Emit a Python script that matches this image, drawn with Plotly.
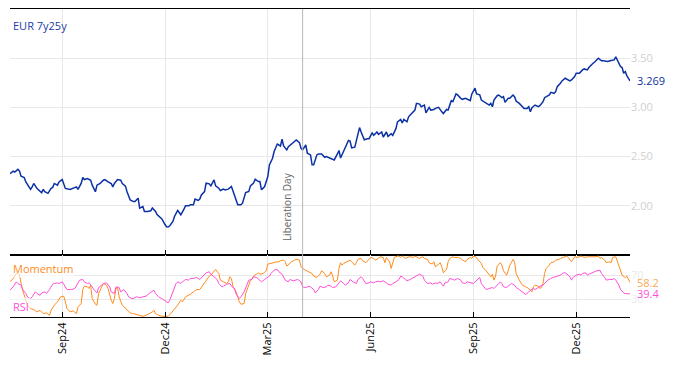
import pandas as pd
import plotly.graph_objects as go

# ---------------- data ----------------
START = "2024-07-17"          # first trading day shown
N_DAYS = 393                  # trading days up to 2026-01-16

# EUR 7y25y level: trading-day offset from START, value
level_day = [0, 2, 3, 5, 6, 7, 9, 10, 12, 13, 14, 15, 17, 19, 20, 21, 22, 24, 26, 27, 28, 30, 31, 33, 34, 35, 38, 40, 42, 43,
             45, 46, 47, 49, 51, 52, 54, 55, 57, 59, 60, 62, 64, 65, 66, 68, 70, 71, 73, 74, 76, 78, 79, 81, 82, 84, 85, 87, 89, 90,
             92, 93, 94, 96, 98, 99, 100, 101, 103, 104, 106, 107, 108, 110, 111, 113, 114, 116, 117, 119, 120, 121, 123, 124, 126, 127, 129, 130, 132, 133,
             135, 136, 138, 140, 141, 143, 144, 146, 147, 149, 151, 152, 154, 155, 157, 158, 159, 161, 163, 164, 166, 167, 169, 171, 172, 173, 175, 176, 178, 180,
             181, 183, 184, 185, 187, 188, 190, 191, 192, 194, 195, 197, 199, 200, 202, 203, 205, 207, 208, 209, 211, 212, 214, 215, 216, 218, 220, 221, 222, 224,
             226, 227, 229, 230, 232, 233, 235, 236, 238, 239, 241, 242, 244, 245, 247, 248, 249, 251, 252, 254, 256, 257, 259, 260, 262, 263, 265, 266, 268, 269,
             271, 273, 274, 276, 277, 279, 280, 282, 283, 285, 286, 288, 289, 291, 292, 294, 295, 297, 298, 300, 301, 303, 304, 305, 306, 308, 309, 311, 312, 313,
             315, 316, 318, 319, 320, 322, 324, 325, 327, 328, 329, 330, 332, 334, 335, 337, 338, 339, 341, 342, 344, 345, 346, 348, 349, 351, 352, 354, 355, 357,
             358, 360, 362, 363, 365, 366, 368, 369, 370, 372, 374, 375, 377, 378, 380, 382, 383, 384, 385, 386, 387, 388, 389, 390, 392]
level = [2.327, 2.353, 2.343, 2.370, 2.353, 2.300, 2.287, 2.243, 2.193, 2.167, 2.193, 2.227, 2.177, 2.153, 2.133, 2.167, 2.143, 2.127, 2.177, 2.187, 2.227, 2.210, 2.243, 2.267, 2.210, 2.177, 2.167, 2.177, 2.193, 2.167,
         2.227, 2.287, 2.267, 2.277, 2.260, 2.210, 2.143, 2.210, 2.227, 2.260, 2.267, 2.243, 2.227, 2.193, 2.227, 2.267, 2.260, 2.227, 2.200, 2.143, 2.060, 2.043, 2.043, 2.077, 1.977, 1.993, 1.943, 1.943, 1.950, 1.977,
         1.943, 1.910, 1.893, 1.867, 1.810, 1.787, 1.784, 1.797, 1.841, 1.892, 1.953, 1.932, 1.909, 1.966, 2.000, 2.000, 2.010, 2.010, 2.068, 2.054, 2.068, 2.111, 2.145, 2.230, 2.223, 2.203, 2.264, 2.203, 2.179, 2.155,
         2.169, 2.162, 2.169, 2.196, 2.145, 2.061, 2.010, 2.010, 2.027, 2.135, 2.145, 2.203, 2.230, 2.270, 2.247, 2.247, 2.162, 2.196, 2.297, 2.416, 2.483, 2.551, 2.628, 2.608, 2.676, 2.608, 2.568, 2.601, 2.628, 2.652,
         2.669, 2.642, 2.584, 2.568, 2.618, 2.534, 2.517, 2.416, 2.416, 2.517, 2.527, 2.527, 2.493, 2.500, 2.483, 2.476, 2.466, 2.527, 2.562, 2.486, 2.562, 2.603, 2.664, 2.658, 2.589, 2.596, 2.716, 2.795, 2.750, 2.671,
         2.682, 2.682, 2.740, 2.716, 2.750, 2.726, 2.750, 2.699, 2.750, 2.705, 2.733, 2.716, 2.784, 2.853, 2.877, 2.842, 2.877, 2.853, 2.904, 2.938, 2.973, 3.041, 3.034, 3.007, 3.024, 2.945, 3.000, 2.973, 2.979, 2.990,
         3.000, 2.955, 2.938, 2.979, 2.973, 3.068, 3.058, 3.137, 3.127, 3.092, 3.082, 3.092, 3.082, 3.068, 3.137, 3.195, 3.137, 3.127, 3.075, 3.058, 3.041, 3.024, 3.041, 3.007, 3.075, 3.119, 3.126, 3.099, 3.109, 3.051,
         3.092, 3.092, 3.126, 3.109, 3.065, 3.041, 3.007, 2.990, 2.990, 3.007, 2.956, 2.997, 3.024, 3.007, 3.017, 3.058, 3.099, 3.109, 3.126, 3.153, 3.143, 3.160, 3.211, 3.245, 3.269, 3.296, 3.289, 3.269, 3.279, 3.313,
         3.347, 3.347, 3.381, 3.391, 3.381, 3.405, 3.439, 3.449, 3.466, 3.500, 3.473, 3.473, 3.473, 3.466, 3.476, 3.483, 3.514, 3.483, 3.449, 3.415, 3.405, 3.347, 3.364, 3.323, 3.269]

mom_day = [0, 2, 4, 6, 7, 8, 10, 11, 13, 15, 17, 19, 21, 23, 25, 26, 28, 30, 32, 34, 35, 36, 38, 40, 42, 43, 45, 46, 47, 49,
           50, 51, 52, 54, 55, 56, 58, 59, 61, 62, 64, 65, 66, 67, 68, 69, 71, 72, 74, 76, 78, 80, 82, 84, 86, 88, 90, 91, 92, 94,
           96, 98, 100, 102, 104, 106, 108, 109, 111, 113, 114, 116, 118, 120, 122, 124, 126, 127, 129, 130, 132, 133, 135, 137, 138, 139, 140, 141, 143, 144,
           145, 146, 148, 149, 151, 152, 154, 156, 157, 158, 160, 162, 163, 165, 166, 168, 170, 171, 173, 174, 175, 177, 178, 180, 181, 183, 184, 186, 188, 189,
           191, 192, 194, 196, 197, 199, 200, 202, 203, 204, 205, 207, 208, 209, 210, 211, 213, 215, 216, 218, 219, 220, 222, 223, 225, 227, 228, 230, 231, 233,
           234, 236, 237, 238, 240, 241, 242, 243, 245, 246, 247, 248, 250, 251, 253, 255, 256, 258, 259, 261, 262, 264, 265, 267, 268, 269, 270, 272, 273, 274,
           275, 276, 277, 278, 280, 281, 283, 285, 286, 288, 289, 291, 292, 293, 295, 296, 298, 299, 301, 303, 304, 305, 306, 307, 308, 310, 311, 312, 314, 315,
           316, 317, 318, 319, 320, 322, 323, 324, 326, 327, 329, 330, 331, 332, 334, 335, 336, 337, 338, 339, 341, 342, 344, 345, 347, 348, 350, 352, 353, 355,
           356, 357, 359, 361, 362, 364, 365, 367, 369, 370, 372, 373, 374, 376, 377, 379, 380, 381, 383, 384, 385, 386, 387, 388, 389, 390, 391, 392]
momentum = [59.0, 64.5, 72.7, 71.6, 56.3, 45.3, 28.9, 20.7, 15.2, 13.6, 9.7, 12.5, 7.0, 8.1, 4.2, 12.5, 20.7, 26.2, 34.4, 35.5, 26.2, 15.2, 9.7, 11.4, 7.0, 18.0, 23.4, 46.4, 51.9, 50.8,
            48.1, 53.6, 31.6, 22.3, 20.7, 39.9, 50.8, 56.3, 53.6, 48.1, 28.9, 23.4, 31.6, 48.1, 49.7, 34.4, 20.7, 18.0, 12.5, 8.1, 7.0, 5.9, 4.2, 2.6, 4.2, 7.0, 9.7, 12.5, 7.0, 4.2,
            2.6, 2.6, 2.6, 8.1, 13.6, 20.7, 28.9, 26.2, 34.4, 37.1, 38.8, 42.6, 46.4, 46.4, 53.6, 61.8, 68.4, 70.0, 77.1, 79.3, 72.7, 61.8, 59.0, 56.3, 59.0, 67.3, 64.5, 50.8, 42.6, 34.4,
            26.2, 22.3, 23.4, 39.9, 53.6, 60.7, 68.4, 72.7, 73.8, 71.6, 72.7, 77.1, 88.1, 89.2, 90.3, 91.4, 91.9, 93.6, 94.7, 91.9, 84.8, 90.3, 91.9, 94.7, 95.8, 94.7, 83.7, 79.3, 77.1, 75.5,
            72.7, 68.4, 66.2, 71.6, 77.1, 72.7, 67.3, 70.0, 75.5, 68.4, 59.0, 61.8, 81.0, 90.3, 86.4, 89.2, 91.9, 94.7, 91.9, 86.4, 90.3, 95.8, 97.4, 93.6, 90.3, 95.8, 99.0, 97.4, 94.7, 97.4,
            100.1, 99.0, 90.3, 99.0, 91.9, 81.0, 89.2, 99.0, 101.2, 101.2, 99.0, 101.2, 97.4, 99.0, 100.1, 99.0, 101.2, 99.0, 97.4, 100.1, 97.4, 95.8, 90.3, 88.1, 91.9, 83.7, 86.4, 90.3, 83.7, 73.8,
            77.1, 79.3, 91.9, 97.4, 100.1, 99.0, 99.0, 97.4, 94.7, 91.9, 95.8, 99.0, 97.4, 101.2, 99.0, 94.7, 89.2, 82.6, 77.1, 71.6, 67.3, 71.6, 61.8, 68.4, 84.8, 90.3, 86.4, 77.1, 70.0, 77.1,
            86.4, 90.3, 95.8, 91.9, 72.7, 61.8, 56.3, 53.6, 50.8, 49.7, 45.3, 42.6, 50.8, 53.6, 51.9, 48.1, 49.7, 56.3, 72.7, 81.0, 86.4, 90.3, 91.9, 94.7, 95.8, 97.4, 99.0, 101.2, 99.0, 91.9,
            95.8, 100.1, 99.0, 101.2, 100.1, 99.0, 100.1, 100.1, 99.0, 100.1, 101.2, 97.4, 99.0, 94.7, 90.3, 91.9, 90.3, 99.0, 100.1, 91.9, 84.8, 75.5, 70.0, 67.3, 66.2, 68.4, 63.0, 58.2]

rsi_day = [0, 2, 4, 5, 7, 8, 10, 11, 13, 14, 16, 17, 19, 20, 22, 23, 25, 27, 28, 30, 31, 33, 35, 36, 38, 39, 41, 42, 44, 46,
           47, 49, 50, 52, 53, 55, 56, 58, 59, 61, 63, 64, 66, 67, 69, 70, 72, 74, 75, 77, 78, 80, 82, 84, 86, 88, 90, 91, 92, 94,
           96, 98, 100, 101, 103, 105, 106, 108, 109, 111, 113, 114, 116, 118, 120, 122, 124, 126, 127, 129, 131, 132, 134, 135, 137, 139, 140, 142, 143, 145,
           146, 148, 150, 151, 153, 154, 156, 158, 159, 161, 162, 164, 165, 167, 169, 170, 172, 173, 174, 176, 177, 179, 181, 182, 184, 185, 187, 189, 190, 192,
           193, 195, 196, 198, 200, 201, 203, 204, 206, 208, 209, 211, 212, 214, 215, 217, 219, 220, 222, 223, 225, 227, 228, 230, 231, 233, 234, 236, 238, 239,
           241, 242, 244, 246, 247, 248, 250, 251, 253, 255, 256, 258, 259, 261, 262, 264, 266, 267, 269, 270, 272, 274, 275, 277, 278, 280, 281, 283, 285, 286,
           288, 289, 291, 293, 294, 296, 297, 298, 300, 301, 303, 305, 306, 308, 310, 311, 312, 314, 316, 317, 319, 320, 322, 324, 325, 326, 328, 329, 331, 332,
           334, 335, 337, 338, 340, 342, 343, 345, 346, 348, 350, 351, 353, 354, 355, 356, 358, 360, 361, 362, 364, 365, 366, 368, 369, 371, 373, 374, 376, 377,
           379, 381, 382, 383, 385, 386, 388, 389, 391, 392]
rsi = [45.3, 50.8, 59.0, 56.3, 53.6, 46.4, 39.9, 34.4, 31.6, 34.4, 42.6, 39.9, 37.1, 40.9, 42.6, 39.9, 46.4, 55.2, 56.3, 57.4, 56.3, 59.0, 50.8, 46.4, 46.4, 46.4, 48.1, 53.6, 61.8, 62.9,
       59.0, 56.3, 57.4, 50.8, 46.4, 40.9, 49.7, 53.6, 56.3, 57.4, 50.8, 42.6, 39.9, 50.8, 49.7, 42.6, 46.4, 39.9, 34.4, 31.6, 31.6, 34.4, 33.3, 34.4, 35.5, 39.9, 44.2, 45.3, 39.9, 34.4,
       31.6, 27.8, 24.5, 28.9, 42.6, 56.3, 59.0, 56.3, 59.0, 62.9, 61.8, 64.5, 64.5, 66.2, 62.9, 68.4, 73.8, 75.5, 71.6, 67.3, 62.9, 56.3, 50.8, 51.9, 55.2, 56.3, 51.9, 48.1, 38.8, 31.6,
       34.4, 42.6, 53.6, 61.8, 62.9, 67.3, 66.2, 61.8, 59.0, 62.9, 64.5, 68.4, 72.7, 78.2, 79.3, 75.5, 71.6, 67.3, 61.8, 59.0, 62.9, 60.7, 61.8, 62.9, 59.0, 50.8, 49.7, 51.9, 50.8, 46.4,
       40.9, 46.4, 51.9, 49.7, 50.8, 53.6, 51.9, 49.7, 50.8, 56.3, 60.7, 56.3, 53.6, 57.4, 62.9, 59.0, 56.3, 62.9, 67.3, 64.5, 56.3, 57.4, 59.0, 57.4, 59.0, 60.1, 59.0, 60.7, 57.4, 55.2,
       53.6, 56.3, 59.0, 62.9, 68.4, 67.3, 62.9, 60.7, 62.9, 66.2, 67.3, 70.0, 71.6, 68.4, 61.8, 56.3, 57.4, 55.2, 57.4, 56.3, 59.0, 51.9, 57.4, 59.0, 64.5, 62.9, 61.8, 64.5, 61.8, 57.4,
       56.3, 59.0, 57.4, 56.3, 59.0, 64.5, 66.2, 56.3, 49.7, 46.4, 48.1, 49.7, 48.1, 53.6, 59.0, 56.3, 50.8, 49.7, 53.6, 56.3, 53.6, 49.7, 46.4, 42.6, 39.9, 38.2, 42.6, 45.3, 48.1, 46.4,
       49.7, 51.9, 53.6, 56.3, 61.8, 64.5, 66.2, 67.3, 68.4, 70.0, 73.8, 73.8, 70.0, 67.3, 61.8, 66.2, 70.0, 71.6, 70.0, 72.7, 73.8, 70.0, 71.6, 73.8, 75.5, 77.1, 78.2, 72.7, 66.2, 61.8,
       62.9, 62.9, 64.5, 61.8, 53.6, 46.4, 40.9, 39.9, 39.4, 39.4]

month_ticks = ["2024-09-02", "2024-12-02", "2025-03-03", "2025-06-02", "2025-09-01", "2025-12-01"]
month_labels = ["Sep24", "Dec24", "Mar25", "Jun25", "Sep25", "Dec25"]
level_ticks = [2.0, 2.5, 3.0, 3.5]
osc_ticks = [30, 70]
event_date = "2025-04-02"
event_label = "Liberation Day"
title_text = "EUR 7y25y"

# ---------------- styling ----------------
BLUE = "#0b31a5"
ORANGE = "#ff8c1a"
PINK = "#ff4fd8"
GRID = "#e8e8e8"
FONT = "Open Sans"

bdays = pd.bdate_range(START, periods=N_DAYS)
x_level = bdays[level_day]
x_mom = bdays[mom_day]
x_rsi = bdays[rsi_day]

fig = go.Figure()
fig.add_trace(go.Scatter(x=x_level, y=level, mode="lines", line=dict(color=BLUE, width=1.5),
                         xaxis="x", yaxis="y", showlegend=False, hoverinfo="skip"))
fig.add_trace(go.Scatter(x=x_mom, y=momentum, mode="lines", line=dict(color=ORANGE, width=1),
                         xaxis="x2", yaxis="y2", showlegend=False, hoverinfo="skip"))
fig.add_trace(go.Scatter(x=x_rsi, y=rsi, mode="lines", line=dict(color=PINK, width=1),
                         xaxis="x2", yaxis="y2", showlegend=False, hoverinfo="skip"))

SPLIT = 62 / 308
xr = [bdays[0], bdays[-1]]
common_x = dict(range=xr, rangebreaks=[dict(bounds=["sat", "mon"])],
                tickvals=month_ticks, ticktext=month_labels,
                ticks="inside", ticklen=5, tickwidth=1, tickcolor="black",
                showline=True, mirror=True, linecolor="black", linewidth=1,
                showgrid=True, gridcolor=GRID, gridwidth=1, zeroline=False)

# the page body adds an 8px offset, so the figure is 8px smaller and left/top margins shrink by 8px
fig.update_layout(
    width=666, height=358,
    margin=dict(l=2, r=44, t=1, b=49),
    paper_bgcolor="white", plot_bgcolor="white",
    font=dict(family=FONT, size=11, color="black"),
    xaxis=dict(domain=[0, 1], anchor="y", showticklabels=False, **common_x),
    xaxis2=dict(domain=[0, 1], anchor="y2", matches="x", showticklabels=True, tickangle=-90,
                tickfont=dict(size=11, color="black"), automargin=False, **common_x),
    yaxis=dict(domain=[SPLIT, 1], anchor="x", side="right", range=[1.5, 4.0],
               tickvals=level_ticks, tickformat=".2f", tickfont=dict(size=11, color="#cfcfcf"),
               showgrid=True, gridcolor=GRID, zeroline=False, showline=False, ticks="",
               automargin=False),
    yaxis2=dict(domain=[0, SPLIT], anchor="x2", side="right", range=[1.4, 103],
                tickvals=osc_ticks, tickfont=dict(size=11, color="#ebebeb"),
                showgrid=True, gridcolor=GRID, zeroline=False, showline=False, ticks="",
                automargin=False),
    showlegend=False,
)

fig.add_shape(type="line", xref="x", yref="paper", x0=event_date, x1=event_date, y0=0, y1=1,
              line=dict(color="#b8b8b8", width=1))

ann = []
ann.append(dict(text=title_text, xref="paper", yref="paper", x=0, y=1, xanchor="left", yanchor="middle",
                xshift=1, yshift=-16, showarrow=False, font=dict(color="#1a3aa8", size=11)))
ann.append(dict(text="Momentum", xref="paper", yref="y2 domain", x=0, y=1, xanchor="left", yanchor="middle",
                xshift=1, yshift=-13, showarrow=False, font=dict(color=ORANGE, size=11),
                bgcolor="rgba(255,255,255,0.6)"))
ann.append(dict(text="RSI", xref="paper", yref="y2 domain", x=0, y=0, xanchor="left", yanchor="middle",
                xshift=1, yshift=11, showarrow=False, font=dict(color=PINK, size=11),
                bgcolor="rgba(255,255,255,0.6)"))
ann.append(dict(text=f"{level[-1]:.3f}", xref="paper", yref="y", x=1, y=level[-1], xanchor="left",
                yanchor="middle", xshift=5, showarrow=False, font=dict(color=BLUE, size=11)))
ann.append(dict(text=f"{momentum[-1]:.1f}", xref="paper", yref="y2", x=1, y=momentum[-1], xanchor="left",
                yanchor="middle", xshift=5, showarrow=False, font=dict(color="#f9a955", size=11)))
ann.append(dict(text=f"{rsi[-1]:.1f}", xref="paper", yref="y2", x=1, y=rsi[-1], xanchor="left",
                yanchor="middle", xshift=5, showarrow=False, font=dict(color=PINK, size=11)))
ann.append(dict(text=event_label, xref="x", yref="y domain", x=event_date, y=0, xanchor="right",
                yanchor="bottom", xshift=-7, yshift=12, textangle=-90, showarrow=False,
                font=dict(color="#666666", size=10)))
fig.update_layout(annotations=ann)

fig.write_html("out.html")
